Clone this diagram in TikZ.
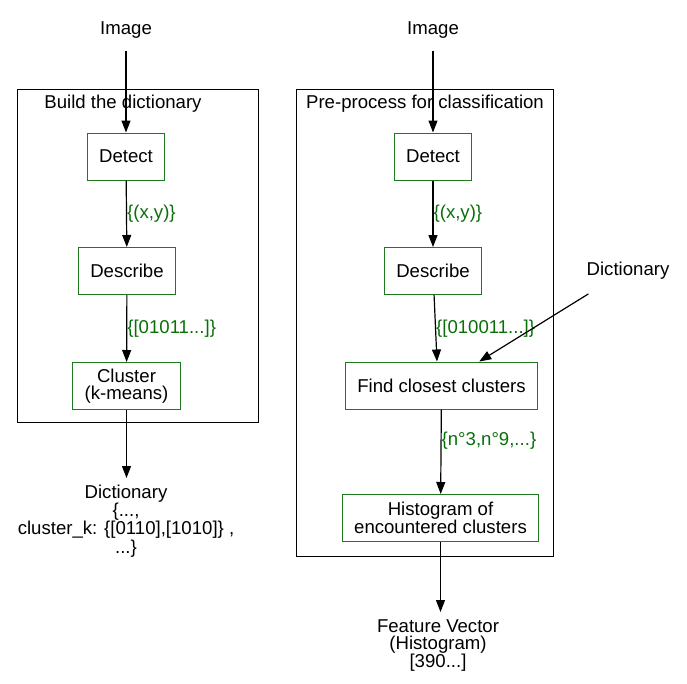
\documentclass[tikz,border=0pt]{standalone}
\usepackage{fontspec}
\setmainfont{Liberation Sans}
\usetikzlibrary{arrows.meta,positioning}
\definecolor{boxgreen}{RGB}{30,120,30}
\definecolor{lblgreen}{RGB}{10,110,10}
\tikzset{
	stepbox/.style = {draw = boxgreen, line width = 1pt, inner xsep = 12pt, minimum height = 47pt, align = center},
	lbl/.style = {text = lblgreen, inner sep = 0pt, right},
	txt/.style = {inner sep = 0pt, align = center},
	flow/.style = {-{Triangle[length = 12pt, width = 9pt]}, line width = 1.2pt}
}
\begin{document}
\begin{tikzpicture}[x = 1pt, y = -1pt, font = \fontsize{18.6}{17}\selectfont]
				\useasboundingbox (0, 0) rectangle (687, 683);
				
				%	build the dictionary
				\draw[line width = 1pt] (17, 89) rectangle (258, 422);
				\node[txt] (buildtitle) at (123, 104) {Build the dictionary};
				
				\node[txt] (img1) at (126, 30) {Image};
				\node[stepbox] (detect1) at (126, 156.5) {Detect};
				\node[stepbox] (describe1) at (127, 271) {Describe};
				\node[stepbox] (cluster1) at (126.5, 386) {Cluster\\(k-means)};
				\node[txt, anchor = north] (dict1) at (126, 484.5) {Dictionary\\\{...,\\cluster\_k: \{[0110],[1010]\} ,\hspace*{38pt}\\...\}};
				
				\draw[flow, shorten <= 12pt] (img1) -- (detect1);
				\draw[flow] (detect1) -- node[lbl]{\{(x,y)\}} (describe1);
				\draw[flow] (describe1) -- node[lbl]{\{[01011...]\}} (cluster1);
				\draw[flow, shorten >= 6.5pt] (cluster1) -- (cluster1 |- dict1.north);
				
				%	pre-process for classification
				\draw[line width = 1pt] (296, 89) rectangle (553, 556);
				\node[txt] (pretitle) at (425, 104) {Pre-process for classification};
				
				\node[txt] (img2) at (433, 30) {Image};
				\node[stepbox] (detect2) at (433, 156.5) {Detect};
				\node[stepbox] (describe2) at (433, 271) {Describe};
				\node[stepbox] (find) at (441.5, 385.5) {Find closest clusters};
				\node[stepbox] (hist) at (440.5, 518) {Histogram of\\encountered clusters};
				\node[txt] (dict2) at (628, 271) {Dictionary};
				\node[txt, anchor = north] (feature) at (438, 619.5) {Feature Vector\\(Histogram)\\{[390...]}};
				
				\draw[flow, shorten <= 12pt] (img2) -- (detect2);
				\draw[flow] (detect2) -- node[lbl]{\{(x,y)\}} (describe2);
				\draw[flow] (describe2) -- node[lbl]{\{[010011...]\}} ([xshift = -4.5pt]find.north);
				\draw[flow] ([xshift = 2pt, yshift = -14pt]dict2.south west) -- ([xshift = -59pt]find.north east);
				\draw[flow] (find) -- node[lbl, pos = 0.37]{\{n°3,n°9,...\}} (hist);
				\draw[flow, shorten >= 7.5pt] (hist) -- (hist |- feature.north);
\end{tikzpicture}
\end{document}
